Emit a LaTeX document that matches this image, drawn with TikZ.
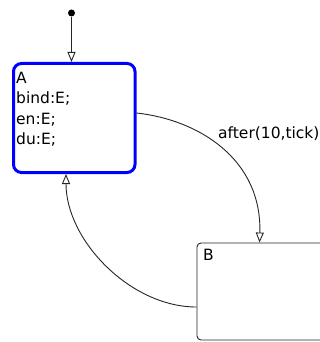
\documentclass[tikz,border=0pt]{standalone}
\usepackage{fontspec}
\setmainfont{DejaVu Sans}
\usetikzlibrary{arrows.meta}
\definecolor{stateblue}{RGB}{0,0,255}
\tikzset{
  every picture/.style={x=1pt,y=-1pt},
  txt/.style={inner sep=0pt,font=\fontsize{15.5}{20.5}\selectfont},
  trans/.style={draw=black!85,line width=0.9pt,-{Triangle[open,length=10pt,width=8pt,line width=0.9pt]}},
  stateA/.style={draw=stateblue,line width=3pt,rounded corners=8pt,minimum width=121.5pt,minimum height=109pt,inner sep=0pt},
  stateB/.style={draw=black!85,line width=0.9pt,rounded corners=4pt,minimum width=138pt,minimum height=97pt,inner sep=0pt},
}
\begin{document}
\begin{tikzpicture}
\clip (0,0) rectangle (320,342);
\fill[white] (0,0) rectangle (320,342);
\node[circle,fill=black,inner sep=0pt,minimum size=7pt] (init) at (71.5,13) {};
\node[stateA] (A) at (74.25,118) {};
\node[txt,anchor=north west,align=left] (Atext) at (16,71.5) {A\\bind:E;\\en:E;\\du:E;};
\node[stateB] (B) at (266,291.5) {};
\node[txt,anchor=base west] (Btext) at (203,260) {B};
\node[txt,anchor=base west] (lab) at (218,138) {after(10,tick)};
\coordinate (Atop) at (init |- A.north);
\draw[trans] (init) -- (Atop);
\draw[trans] ([yshift=5pt]A.east) .. controls (200,120) and (262,160) .. ([xshift=63pt]B.north west);
\draw[trans] ([yshift=-15.5pt]B.west) .. controls (130,307) and (66,240) .. ([xshift=-8.25pt]A.south);
\end{tikzpicture}
\end{document}
